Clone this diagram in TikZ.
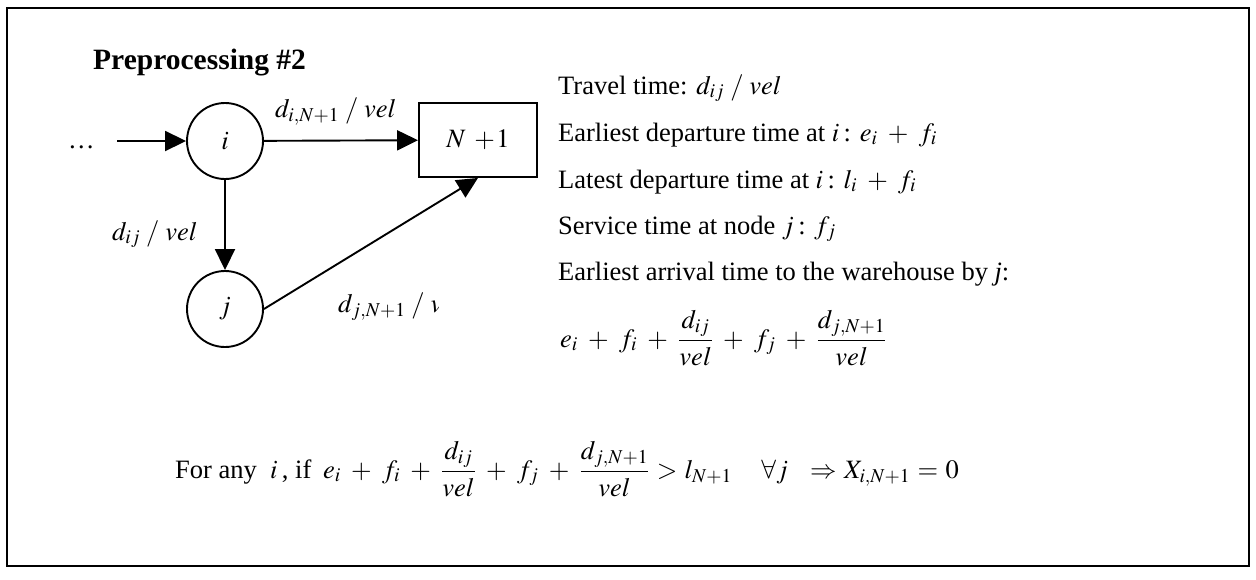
\documentclass[tikz,border=0pt]{standalone}
\usepackage{amsmath}
\usepackage{mathptmx}
\usepackage[no-math]{fontspec}
\setmainfont{Liberation Serif}
\usetikzlibrary{arrows.meta}
\medmuskip=7mu plus 2mu minus 2mu
\thickmuskip=5mu plus 3mu
\newcommand{\slashsep}{\mskip4mu/\mskip4mu}
\begin{document}
\begin{tikzpicture}[x=1pt,y=-1pt,
  every node/.style={font=\fontsize{26.5}{32}\selectfont},
  txt/.style={anchor=base west, inner sep=0pt},
  circ/.style={draw, line width=1.9pt, circle, minimum size=76pt, inner sep=0pt},
  boxnode/.style={draw, line width=1.9pt, rectangle, minimum width=118pt, minimum height=74pt, inner sep=0pt},
  arr/.style={line width=1.9pt, -{Triangle[length=21pt,width=20pt]}}
]
\useasboundingbox (0,0) rectangle (1256,579);
\draw[line width=2.6pt] (7,8) rectangle (1249,566);

% title
\node[txt, font=\fontsize{29.5}{34}\selectfont\bfseries] (title) at (93,69) {Preprocessing \#2};

% graph
\node[txt] (dots) at (68,148) {\ldots};
\coordinate (start) at (117,141);
\node[circ] (i) at (225,141) {$i$};
\node[boxnode] (N) at (478,140) {$N\mskip6mu{+}\mskip1mu1$};
\node[circ] (j) at (225,309) {$j$};

\draw[arr] (start) -- (i);
\draw[arr] (i) -- (N);
\draw[arr] (i) -- (j);
\draw[arr] (j.east) -- (N.south);

\node[txt] (lab1) at (275,117) {$d_{i,N+1}\slashsep vel$};
\node[txt] (lab2) at (112,240) {$d_{ij}\slashsep vel$};
\begin{scope}
  \clip (330,270) rectangle (438,335);
  \node[txt] (lab3) at (338,312) {$d_{j,N+1}\slashsep vel$};
\end{scope}

% right column
\node[txt] (t1) at (558,94) {Travel time: $d_{ij}\slashsep vel$};
\node[txt] (t2) at (558,141) {Earliest departure time at $i$\,: $e_i + f_i$};
\node[txt] (t3) at (558,188) {Latest departure time at $i$\,: $l_i + f_i$};
\node[txt] (t4) at (558,234) {Service time at node $j$\,: $f_j$};
\node[txt] (t5) at (558,280) {Earliest arrival time to the warehouse by \textit{j}:};
\node[txt] (t6) at (560,347) {$e_i + f_i + \dfrac{d_{ij}}{vel} + f_j + \dfrac{d_{j,N+1}}{vel}$};

% bottom line
\node[txt] (rule) at (175,478) {For any\enspace$i$\,, if\;\,$e_i + f_i + \dfrac{d_{ij}}{vel} + f_j + \dfrac{d_{j,N+1}}{vel} > l_{N+1} \;\;\;\; \forall j \;\; \Rightarrow X_{i,N+1} = 0$};
\end{tikzpicture}
\end{document}
